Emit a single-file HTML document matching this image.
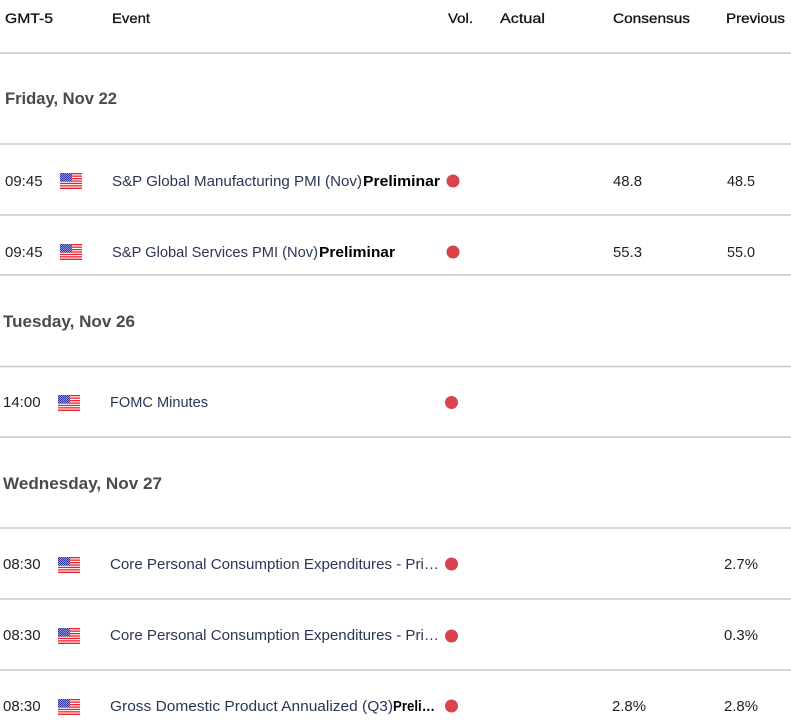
<!DOCTYPE html>
<html><head><meta charset="utf-8"><style>
html,body{margin:0;padding:0;background:#fff;}
svg{display:block;}
text{font-family:"Liberation Sans",Arial,sans-serif;}
</style></head><body>
<svg width="791" height="725" viewBox="0 0 791 725" xmlns="http://www.w3.org/2000/svg">
<defs>
<pattern id="chk" width="2" height="2" patternUnits="userSpaceOnUse">
<rect width="2" height="2" fill="#3236a6"/><rect width="1" height="1" fill="#8e95dc"/><rect x="1" y="1" width="1" height="1" fill="#8e95dc"/>
</pattern>
<g id="flag">
<rect x="0" y="0" width="22" height="16" fill="#fff"/>
<rect x="0" y="0" width="22" height="1.3" fill="#e8232b"/>
<rect x="0" y="2.5" width="22" height="1.3" fill="#e8232b"/>
<rect x="0" y="5" width="22" height="1.3" fill="#e8232b"/>
<rect x="0" y="7.4" width="22" height="1.3" fill="#e8232b"/>
<rect x="0" y="9.8" width="22" height="1.3" fill="#e8232b"/>
<rect x="0" y="12.2" width="22" height="1.3" fill="#e8232b"/>
<rect x="0" y="14.6" width="22" height="1.4" fill="#e8232b"/>
<rect x="0" y="0" width="12" height="8.6" fill="url(#chk)"/>
</g>
</defs>
<rect width="791" height="725" fill="#fff"/>
<g stroke="#c6c9cc" stroke-width="1.5">
<line x1="0" y1="53" x2="791" y2="53"/>
<line x1="0" y1="144" x2="791" y2="144"/>
<line x1="0" y1="215" x2="791" y2="215"/>
<line x1="0" y1="275" x2="791" y2="275"/>
<line x1="0" y1="366.5" x2="791" y2="366.5"/>
<line x1="0" y1="437" x2="791" y2="437"/>
<line x1="0" y1="528" x2="791" y2="528"/>
<line x1="0" y1="599" x2="791" y2="599"/>
<line x1="0" y1="670" x2="791" y2="670"/>
</g>
<g font-size="14" fill="#111" stroke="#111" stroke-width="0.3">
<text x="5" y="23" textLength="48" lengthAdjust="spacingAndGlyphs">GMT-5</text>
<text x="112" y="23" textLength="38" lengthAdjust="spacingAndGlyphs">Event</text>
<text x="448" y="23" textLength="25" lengthAdjust="spacingAndGlyphs">Vol.</text>
<text x="500" y="23" textLength="45" lengthAdjust="spacingAndGlyphs">Actual</text>
<text x="613" y="23" textLength="77" lengthAdjust="spacingAndGlyphs">Consensus</text>
<text x="726" y="23" textLength="59" lengthAdjust="spacingAndGlyphs">Previous</text>
</g>
<g font-size="16.5" font-weight="bold" fill="#4a4a4a">
<text x="5" y="104" textLength="112" lengthAdjust="spacingAndGlyphs">Friday, Nov 22</text>
<text x="3" y="327" textLength="132" lengthAdjust="spacingAndGlyphs">Tuesday, Nov 26</text>
<text x="3" y="489" textLength="159" lengthAdjust="spacingAndGlyphs">Wednesday, Nov 27</text>
</g>
<g font-size="15" fill="#222">
<text x="5" y="186">09:45</text>
<text x="5" y="257">09:45</text>
<text x="3" y="407">14:00</text>
<text x="3" y="569">08:30</text>
<text x="3" y="640">08:30</text>
<text x="3" y="711">08:30</text>
</g>
<use href="#flag" x="60" y="173"/>
<use href="#flag" x="60" y="244"/>
<use href="#flag" x="58" y="395"/>
<use href="#flag" x="58" y="557"/>
<use href="#flag" x="58" y="628"/>
<use href="#flag" x="58" y="699"/>
<g font-size="15" fill="#2b3556">
<text x="112" y="186" textLength="250" lengthAdjust="spacingAndGlyphs">S&amp;P Global Manufacturing PMI (Nov)</text>
<text x="112" y="257" textLength="206" lengthAdjust="spacingAndGlyphs">S&amp;P Global Services PMI (Nov)</text>
<text x="110" y="407" textLength="98" lengthAdjust="spacingAndGlyphs">FOMC Minutes</text>
<text x="110" y="569" textLength="329" lengthAdjust="spacingAndGlyphs">Core Personal Consumption Expenditures - Pri…</text>
<text x="110" y="640" textLength="329" lengthAdjust="spacingAndGlyphs">Core Personal Consumption Expenditures - Pri…</text>
<text x="110" y="711" textLength="283" lengthAdjust="spacingAndGlyphs">Gross Domestic Product Annualized (Q3)</text>
</g>
<g font-size="15" font-weight="bold" fill="#000">
<text x="363" y="186" textLength="77" lengthAdjust="spacingAndGlyphs">Preliminar</text>
<text x="319" y="257" textLength="76" lengthAdjust="spacingAndGlyphs">Preliminar</text>
<text x="393" y="711" textLength="42" lengthAdjust="spacingAndGlyphs">Preli…</text>
</g>
<g fill="#d9434e">
<circle cx="453" cy="181" r="6.5"/>
<circle cx="453" cy="252" r="6.5"/>
<circle cx="451.5" cy="402.5" r="6.5"/>
<circle cx="451.5" cy="564" r="6.5"/>
<circle cx="451.5" cy="636" r="6.5"/>
<circle cx="451.5" cy="706" r="6.5"/>
</g>
<g font-size="14.5" fill="#222">
<text x="613" y="186" textLength="29" lengthAdjust="spacingAndGlyphs">48.8</text>
<text x="727" y="186" textLength="28" lengthAdjust="spacingAndGlyphs">48.5</text>
<text x="613" y="257" textLength="29" lengthAdjust="spacingAndGlyphs">55.3</text>
<text x="727" y="257" textLength="28" lengthAdjust="spacingAndGlyphs">55.0</text>
<text x="724" y="569" textLength="34" lengthAdjust="spacingAndGlyphs">2.7%</text>
<text x="724" y="640" textLength="34" lengthAdjust="spacingAndGlyphs">0.3%</text>
<text x="612" y="711" textLength="34" lengthAdjust="spacingAndGlyphs">2.8%</text>
<text x="724" y="711" textLength="34" lengthAdjust="spacingAndGlyphs">2.8%</text>
</g>
</svg>
</body></html>
